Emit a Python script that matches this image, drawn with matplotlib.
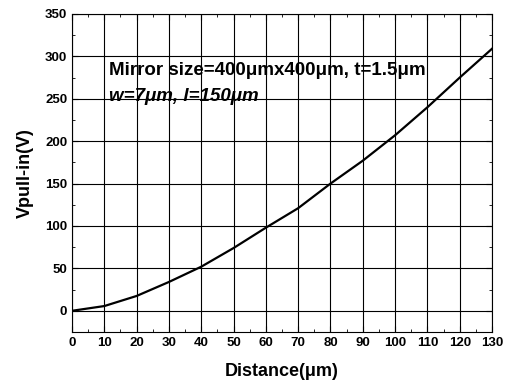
import matplotlib.pyplot as plt

distance = [0, 10, 20, 30, 40, 50, 60, 70, 80, 90, 100, 110, 120, 130]
vpullin = [0, 5.6, 17.5, 34, 52, 74, 98, 121, 150, 177, 207, 240, 275, 309]

plt.rcParams['font.family'] = ['Liberation Sans', 'DejaVu Sans']
plt.rcParams['font.weight'] = 'bold'

fig = plt.figure(figsize=(5.07, 3.87), dpi=100)
ax = fig.add_axes([72/507, 1 - 332/387, 420/507, 318/387])

ax.plot(distance, vpullin, color='black', linewidth=1.6)

ax.set_xlim(0, 130)
ax.set_ylim(-25, 350)
ax.set_xticks(range(0, 131, 10))
ax.set_xticks(range(5, 131, 10), minor=True)
ax.set_yticks(range(0, 351, 50))
ax.set_yticks(range(25, 351, 50), minor=True)
ax.tick_params(direction='in', which='both', top=True, right=True, labelsize=9.5)
ax.tick_params(which='major', length=4)
ax.tick_params(which='minor', length=2)
ax.grid(True, which='major', color='black', linewidth=0.8)
for lbl in ax.get_xticklabels() + ax.get_yticklabels():
    lbl.set_fontweight('bold')

ax.set_xlabel('Distance(\u03bcm)', fontsize=13, fontweight='bold', labelpad=10)
ax.set_ylabel('Vpull-in(V)', fontsize=13, fontweight='bold', labelpad=8)

ax.text(11.5, 283, 'Mirror size=400\u03bcmx400\u03bcm, t=1.5\u03bcm',
        fontsize=13.5, fontweight='bold', va='center', ha='left')
ax.text(11.5, 253, 'w=7\u03bcm, l=150\u03bcm',
        fontsize=13.5, fontweight='bold', style='italic', va='center', ha='left')

fig.savefig('out.png', dpi=100)
